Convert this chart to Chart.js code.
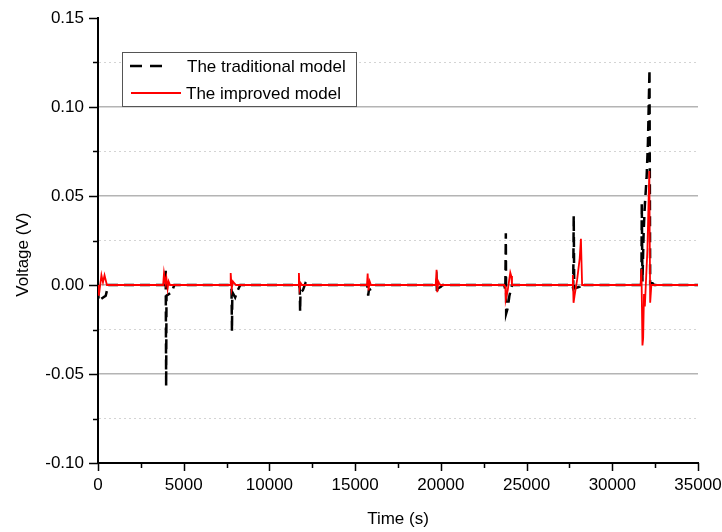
<!DOCTYPE html>
<html>
<head>
<meta charset="utf-8">
<script src="https://cdn.jsdelivr.net/npm/chart.js@4/dist/chart.umd.min.js"></script>
<style>
  body { margin: 0; background: #fff; }
</style>
</head>
<body>
<canvas id="chart-1" width="722" height="532"></canvas>
<script>
// time (s) and voltage error (V)
var tradTime = [0, 40, 150, 300, 450, 600,
  3900, 3950, 3975, 3995, 4150, 4300, 4450,
  7760, 7790, 7815, 7835, 8000, 8150, 8300,
  11730, 11770, 11790, 11810, 11950, 12100, 12250,
  15700, 15740, 15760, 15800, 15950, 16100,
  19710, 19750, 19775, 19800, 20000, 20100,
  23700, 23760, 23790, 23810, 23900, 24000, 24150,
  27650, 27720, 27750, 27780, 28100, 28200, 28350,
  31650, 31700, 31720, 31760, 31830, 31900, 32000, 32080, 32170, 32210, 32350, 32450,
  35000];
var tradVolt = [-0.002, -0.009, -0.008, -0.007, -0.006, 0,
  0, 0.008, -0.057, -0.006, -0.005, -0.004, 0,
  0, -0.003, -0.026, -0.004, -0.007, -0.003, 0,
  0, -0.002, -0.015, -0.004, -0.003, 0.001, 0,
  0, -0.002, -0.006, -0.003, -0.002, 0,
  0, 0.002, -0.005, -0.002, -0.001, 0,
  0, -0.003, 0.029, -0.016, -0.013, -0.006, 0,
  0, -0.002, 0.039, -0.002, -0.001, 0.001, 0,
  0, 0.001, 0.046, 0.002, 0.03, 0.045, 0.06, 0.08, 0.121, 0.001, 0.001, 0,
  0];

var impTime = [0, 50, 200, 290, 380, 520,
  3800, 3850, 3930, 3990, 4060, 4120, 4200,
  7700, 7740, 7800, 7870, 7950, 8050,
  11680, 11720, 11760, 11830, 11900,
  15690, 15730, 15780, 15850, 15920,
  19700, 19750, 19790, 19850, 19900, 19980,
  23700, 23760, 23790, 23900, 24050, 24110, 24150,
  27650, 27700, 27740, 27800, 27950, 28100, 28170, 28240,
  31650, 31700, 31760, 31800, 31850, 31900, 31960, 32050, 32160, 32210, 32280,
  35000];
var impVolt = [0, -0.006, 0.0055, 0.0015, 0.0055, 0,
  0, 0.0065, 0.001, 0.004, -0.002, 0.002, 0,
  0, 0.0067, -0.002, 0.002, 0.001, 0,
  0, 0.0067, -0.002, 0.001, 0,
  0, 0.0065, -0.003, 0.002, 0,
  0, 0.0085, -0.004, 0.002, 0.001, 0,
  0, -0.001, -0.008, -0.003, 0.007, 0.005, 0,
  0, 0.0056, -0.010, -0.006, 0.003, 0.015, 0.026, 0,
  0, 0.009, -0.034, -0.03, -0.005, -0.012, 0.001, 0.02, 0.064, -0.010, 0,
  0];

var seriesNames = ['The traditional model', 'The improved model'];

function toPoints(xs, ys) {
  return xs.map(function (x, i) { return { x: x, y: ys[i] }; });
}

var FONT = '"Liberation Sans", Arial, sans-serif';

// ticks outside the axes, long for labelled values, short in between
var axisTicks = {
  id: 'axisTicks',
  afterDraw: function (chart) {
    var ctx = chart.ctx, xs = chart.scales.x, ys = chart.scales.y;
    ctx.save();
    ctx.strokeStyle = '#000';
    ctx.lineWidth = 1.5;
    ctx.beginPath();
    for (var t = 0; t <= 35000; t += 2500) {
      var px = Math.round(xs.getPixelForValue(t)) + 0.5;
      var len = t % 5000 === 0 ? 8 : 5;
      ctx.moveTo(px, ys.bottom);
      ctx.lineTo(px, ys.bottom + len);
    }
    for (var k = -4; k <= 6; k++) {
      var py = Math.round(ys.getPixelForValue(k * 0.025)) + 0.5;
      var l = k % 2 === 0 ? 9 : 5;
      ctx.moveTo(xs.left, py);
      ctx.lineTo(xs.left - l, py);
    }
    ctx.stroke();
    ctx.restore();
  }
};

// legend box inside the plot, top left
var boxLegend = {
  id: 'boxLegend',
  afterDatasetsDraw: function (chart) {
    var ctx = chart.ctx;
    var ds = chart.data.datasets;
    ctx.save();
    ctx.fillStyle = '#fff';
    ctx.fillRect(122.5, 52.5, 234, 54);
    ctx.strokeStyle = '#555';
    ctx.lineWidth = 1;
    ctx.strokeRect(122.5, 52.5, 234, 54);

    ctx.strokeStyle = ds[0].borderColor;
    ctx.lineWidth = 2.5;
    ctx.setLineDash([12, 8]);
    ctx.beginPath();
    ctx.moveTo(130, 66); ctx.lineTo(162, 66);
    ctx.stroke();

    ctx.setLineDash([]);
    ctx.strokeStyle = ds[1].borderColor;
    ctx.lineWidth = 2;
    ctx.beginPath();
    ctx.moveTo(131, 93); ctx.lineTo(181, 93);
    ctx.stroke();

    ctx.fillStyle = '#000';
    ctx.font = '17px ' + FONT;
    ctx.textBaseline = 'middle';
    ctx.fillText(ds[0].label, 187, 67);
    ctx.fillText(ds[1].label, 186, 94);
    ctx.restore();
  }
};

function isMajor(v) {
  return Math.round(v * 1000) % 50 === 0;
}

var ctxOne = document.getElementById('chart-1').getContext('2d');
var chart = new Chart(ctxOne, {
  type: 'line',
  data: {
    datasets: [{
      label: seriesNames[0],
      data: toPoints(tradTime, tradVolt),
      borderColor: '#000000',
      borderWidth: 2.5,
      borderDash: [10, 6],
      pointRadius: 0,
      tension: 0,
      order: 2
    }, {
      label: seriesNames[1],
      data: toPoints(impTime, impVolt),
      borderColor: '#ff0000',
      borderWidth: 1.8,
      pointRadius: 0,
      tension: 0,
      order: 1
    }]
  },
  options: {
    responsive: false,
    animation: false,
    layout: { padding: { top: 18, right: 24, bottom: 0, left: 0 } },
    plugins: {
      legend: { display: false },
      tooltip: { enabled: false }
    },
    scales: {
      x: {
        type: 'linear',
        min: 0,
        max: 35000,
        afterFit: function (s) {
          s.height = 69;
          s.paddingLeft = 0;
          s.paddingRight = 0;
        },
        ticks: {
          stepSize: 5000,
          padding: 12,
          color: '#000',
          font: { family: FONT, size: 17 },
          maxRotation: 0,
          callback: function (v) { return String(v); }
        },
        grid: { drawOnChartArea: false, drawTicks: false },
        border: { color: '#000', width: 2 },
        title: {
          display: true,
          text: 'Time (s)',
          color: '#000',
          font: { family: FONT, size: 17 },
          padding: { top: 0, bottom: 2 }
        }
      },
      y: {
        min: -0.1,
        max: 0.15,
        afterFit: function (s) {
          s.width = 98;
          s.paddingTop = 0;
          s.paddingBottom = 0;
        },
        ticks: {
          stepSize: 0.025,
          padding: 14,
          color: '#000',
          font: { family: FONT, size: 17 },
          callback: function (v) { return isMajor(v) ? v.toFixed(2) : ''; }
        },
        grid: {
          drawTicks: false,
          color: function (c) {
            if (!c.tick) return 'rgba(0,0,0,0)';
            var v = c.tick.value;
            if (v > 0.14 || v < -0.09) return 'rgba(0,0,0,0)';
            return isMajor(v) ? '#b4b4b4' : '#d4d4d4';
          },
          lineWidth: function (c) {
            return c.tick && isMajor(c.tick.value) ? 1.5 : 1;
          }
        },
        border: {
          color: '#000',
          width: 2,
          dash: function (c) {
            if (!c.tick) return [];
            return isMajor(c.tick.value) ? [] : [2, 3];
          }
        },
        title: {
          display: true,
          text: 'Voltage (V)      ',
          color: '#000',
          font: { family: FONT, size: 17 },
          padding: { top: 13, bottom: 0 }
        }
      }
    }
  },
  plugins: [axisTicks, boxLegend]
});
</script>
</body>
</html>
